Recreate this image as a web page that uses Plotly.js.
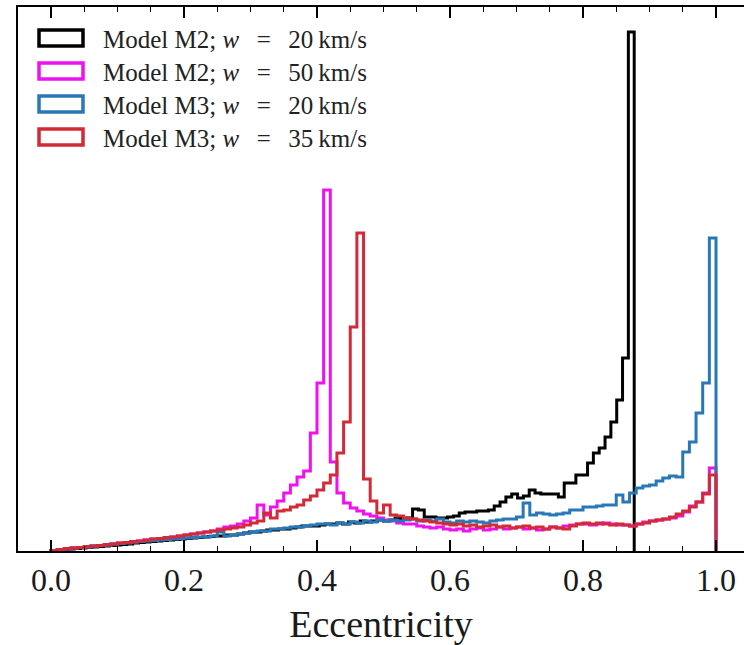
<!DOCTYPE html>
<html>
<head>
<meta charset="utf-8">
<script src="https://cdn.plot.ly/plotly-3.0.1.min.js"></script>
<style>html,body{margin:0;padding:0;background:#fff;}#chart{width:744px;height:645px;}</style>
</head>
<body>
<div id="chart"></div>
<script>
// ---- Data (histogram heights, arbitrary units) ----
// Model M2; w = 20 km/s : 100 bins spanning [binLoM2a, binHiM2a]
const binLoM2a = 0.0, binHiM2a = 0.877;
const histM2w20 = [
  0.5,1,1.5,2,2.5,3,3.5,4,4.5,5,
  5.5,6,6.5,7,8,8.5,9,9.5,10,10.5,
  11,11.5,12,12.5,13,13.5,14,14.5,15,15,
  16,16,17,18,19,19,20,21,21,22,
  22,23,24,25,25,25,26,27,27,28,
  27,29,28,30,29,30,31,30,31,33,
  32,33,42,41,34,34,33,33,34,35,
  38,39,39,40,40,41,45,49,54,57,
  53,55,61,58,57,57,57,54,68,68,
  76,76,88,98,103,114,129,151,193,519
];
// Model M2; w = 50 km/s : 100 bins spanning [binLo, binHi]
const binLo = 0.0, binHi = 1.0;
const histM2w50 = [
  0.5,1.5,2,3,3.5,4,5,5.5,6,7,
  8,8.5,9,10,11,12,12.5,13,14,15,
  16,17,18,19,20,22,24,25,27,30,
  33,46,36,44,50,58,66,74,80,118,
  168,361,89,58,48,43,40,37,35,33,
  31,30,28,27,27,25,24,23,24,22,
  21,22,20,22,23,21,22,24,22,23,
  24,22,23,21,22,24,23,25,26,27,
  27,26,27,28,27,26,26,25,27,29,
  30,31,32,33,35,39,45,49,58,83
];
// Model M3; w = 20 km/s
const histM3w20 = [
  0.5,1.5,2,3,3.5,4,5,5.5,6,7,
  7.5,8,9,9.5,10,10.5,11,11.5,12,12.5,
  13,13.5,14,14,15,19,15,16,17,18,
  19,20,20,22,22,23,24,24,25,26,
  27,27,26,28,27,29,28,30,29,31,
  30,31,30,31,32,30,31,30,32,29,
  28,30,29,30,29,28,30,31,32,32,
  34,48,36,38,37,36,37,38,41,41,
  44,44,45,46,46,56,49,58,63,65,
  66,70,73,75,74,99,109,138,168,313
];
// Model M3; w = 35 km/s
const histM3w35 = [
  0.5,1.5,2.5,3,3.5,4.5,5,5.5,6.5,7,
  8,8.5,9.5,10,11,12,12.5,13.5,14,15,
  16,17,18,19,20,21,22,23,24,26,
  28,30,38,33,40,41,44,46,51,55,
  61,68,76,98,129,224,318,72,50,38,
  46,36,35,33,32,31,30,29,28,27,
  26,27,25,26,24,25,26,24,25,23,
  24,25,23,24,22,24,23,22,25,27,
  28,27,28,27,26,27,26,25,27,28,
  30,31,32,34,37,40,44,49,57,76
];
const seriesNames = ['Model M2; <i>w</i> = 20 km/s','Model M2; <i>w</i> = 50 km/s','Model M3; <i>w</i> = 20 km/s','Model M3; <i>w</i> = 35 km/s'];
const seriesColors = ['#000000','#f010f0','#2878b8','#d22a36'];
const xTickVals = [0,0.2,0.4,0.6,0.8,1.0];
const xTickText = ['0.0','0.2','0.4','0.6','0.8','1.0'];

// ---- Build step outlines ----
function edgesFor(lo, hi, n){ const e=[]; for(let k=0;k<=n;k++) e.push(lo+(hi-lo)*k/n); return e; }
function stepTrace(lo, hi, h, color, name){
  const e = edgesFor(lo, hi, h.length);
  const xs=[e[0]], ys=[0];
  for(let i=0;i<h.length;i++){ xs.push(e[i]); ys.push(h[i]); }
  xs.push(e[h.length]); ys.push(h[h.length-1]);
  xs.push(e[h.length]); ys.push(0);
  return {x:xs, y:ys, type:'scatter', mode:'lines', name:name,
          line:{shape:'hv', color:color, width:3}, hoverinfo:'skip', showlegend:false};
}
const traces = [
  stepTrace(binLoM2a, binHiM2a, histM2w20, seriesColors[0], seriesNames[0]),
  stepTrace(binLo, binHi, histM2w50, seriesColors[1], seriesNames[1]),
  stepTrace(binLo, binHi, histM3w20, seriesColors[2], seriesNames[2]),
  stepTrace(binLo, binHi, histM3w35, seriesColors[3], seriesNames[3])
];

// ---- Manual legend (boxes + text), in paper coordinates ----
const plotL=18, plotR=744, plotT=7, plotB=551;
const px2x = p => (p-plotL)/(plotR-plotL);
const py2y = p => (plotB-p)/(plotB-plotT);
const rowY = [38,71,104,137];
const shapes=[], annotations=[];
for(let i=0;i<4;i++){
  shapes.push({type:'rect', xref:'paper', yref:'paper', x0:px2x(39), x1:px2x(83),
    y0:py2y(rowY[i]+8), y1:py2y(rowY[i]-8), line:{color:seriesColors[i], width:3.5}, fillcolor:'rgba(0,0,0,0)'});
  annotations.push({xref:'paper', yref:'paper', x:px2x(101), y:py2y(rowY[i]+1), xanchor:'left', yanchor:'middle',
    text:seriesNames[i].replace(' = ','\u2002\u2009=\u2002\u2009').replace(' km','\u2009km'), showarrow:false,
    font:{family:'Liberation Serif, serif', size:25, color:'#222'}});
}

const layout = {
  width:744, height:645,
  margin:{l:plotL, r:744-plotR, t:plotT, b:645-plotB},
  paper_bgcolor:'#fff', plot_bgcolor:'#fff',
  showlegend:false,
  xaxis:{
    range:[-0.0496, 1.0421], tickmode:'array', tickvals:xTickVals, ticktext:xTickText,
    ticks:'inside', ticklen:11, tickwidth:1.3, tickcolor:'#000',
    minor:{tickmode:'linear', tick0:0, dtick:0.05, ticks:'inside', ticklen:5, tickwidth:1, tickcolor:'#000'},
    showline:true, linecolor:'#000', linewidth:1.6, mirror:'ticks',
    showgrid:false, zeroline:false,
    tickfont:{family:'Liberation Serif, serif', size:32, color:'#1a1a1a'},
    title:{text:'Eccentricity', font:{family:'Liberation Serif, serif', size:38, color:'#1a1a1a'}, standoff:13},
    automargin:false
  },
  yaxis:{
    range:[0,544], showline:true, linecolor:'#000', linewidth:1.6, mirror:false,
    ticks:'', showticklabels:false, showgrid:false, zeroline:false, automargin:false
  },
  shapes:shapes, annotations:annotations
};
Plotly.newPlot('chart', traces, layout, {staticPlot:true, displayModeBar:false});
</script>
</body>
</html>
